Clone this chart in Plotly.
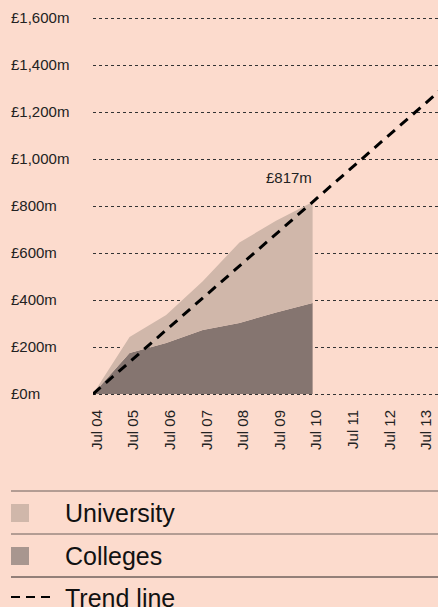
import plotly.graph_objects as go

# ---- data ----
years = ["2004-07-01", "2005-07-01", "2006-07-01", "2007-07-01",
         "2008-07-01", "2009-07-01", "2010-07-01"]
colleges = [0, 174, 217, 272, 302, 347, 387]
total = [0, 243, 336, 480, 645, 737, 817]
university = [t - c for t, c in zip(total, colleges)]

trend_x = ["2004-07-01", "2014-07-01"]
trend_y = [0, 1362]

x_tick_vals = ["2004-07-01", "2005-07-01", "2006-07-01", "2007-07-01", "2008-07-01",
               "2009-07-01", "2010-07-01", "2011-07-01", "2012-07-01", "2013-07-01"]
x_tick_text = ["Jul 04", "Jul 05", "Jul 06", "Jul 07", "Jul 08",
               "Jul 09", "Jul 10", "Jul 11", "Jul 12", "Jul 13"]
y_tick_vals = [0, 200, 400, 600, 800, 1000, 1200, 1400, 1600]
y_tick_text = ["£0m", "£200m", "£400m", "£600m", "£800m",
               "£1,000m", "£1,200m", "£1,400m", "£1,600m"]

legend_labels = ["University", "Colleges", "Trend line"]

# ---- style ----
BG = "#FCDBCD"
UNI = "#D0B7AA"
COL = "#857570"
COL_SWATCH = "#A8968F"
FONT = "Liberation Sans, Arial, sans-serif"
W, H = 438, 607
L, R, T, B = 7, 0, 8, 203
PLOT_LEFT = 93
Y_RANGE = [-42.55, 1642.55]


def px(x):
    return (x - L) / (W - L - R)


def py(y):
    return (H - B - y) / (H - B - T)


fig = go.Figure()
fig.add_trace(go.Scatter(x=years, y=colleges, name="Colleges", stackgroup="s",
                         mode="none", fillcolor=COL, line=dict(width=0),
                         hoverinfo="skip"))
fig.add_trace(go.Scatter(x=years, y=university, name="University", stackgroup="s",
                         mode="none", fillcolor=UNI, line=dict(width=0),
                         hoverinfo="skip"))
fig.add_trace(go.Scatter(x=trend_x, y=trend_y, name="Trend line", mode="lines",
                         line=dict(color="#000000", width=3, dash="10px,7px"),
                         hoverinfo="skip"))

fig.add_annotation(x=years[-1], y=total[-1], text=f"£{total[-1]}m", showarrow=False,
                   xanchor="right", yanchor="bottom", yshift=14, xshift=1,
                   font=dict(family=FONT, size=15, color="#222"))

# legend rules
for yy, c in [(491, "#6a5f5b"), (534, "#6a5f5b"), (577, "#2a2524")]:
    fig.add_shape(type="line", xref="paper", yref="paper",
                  x0=px(11), x1=px(438), y0=py(yy), y1=py(yy),
                  line=dict(color=c, width=1))
# swatches
for (yc, c) in [(513, UNI), (556, COL_SWATCH)]:
    fig.add_shape(type="rect", xref="paper", yref="paper",
                  x0=px(11), x1=px(29), y0=py(yc - 9), y1=py(yc + 9),
                  fillcolor=c, line=dict(width=0))
fig.add_shape(type="line", xref="paper", yref="paper",
              x0=px(11), x1=px(50), y0=py(597), y1=py(597),
              line=dict(color="#000", width=2, dash="9px,6px"))
for lab, yc in zip(legend_labels, [513, 556, 598]):
    fig.add_annotation(xref="paper", yref="paper", x=px(63), y=py(yc), text=lab,
                       showarrow=False, xanchor="left", yanchor="middle",
                       font=dict(family=FONT, size=25, color="#111"))

fig.update_layout(
    width=W, height=H,
    margin=dict(l=L, r=R, t=T, b=B),
    paper_bgcolor=BG, plot_bgcolor=BG,
    showlegend=False,
    font=dict(family=FONT, size=15, color="#222"),
    xaxis=dict(domain=[px(PLOT_LEFT), 1], type="date",
               range=["2004-07-01", "2013-12-03"],
               tickvals=x_tick_vals, ticktext=x_tick_text, tickangle=-90,
               showgrid=False, zeroline=False, showline=False, ticks="",
               ticklabelstandoff=2, ticklabelshift=4,
               tickfont=dict(family=FONT, size=15, color="#222")),
    yaxis=dict(range=Y_RANGE, tickvals=y_tick_vals, showticklabels=False,
               showgrid=True, gridcolor="#333", griddash="dot", gridwidth=1,
               zeroline=False, showline=False, ticks=""),
    yaxis2=dict(overlaying="y", anchor="free", position=0, side="left",
                range=Y_RANGE, tickvals=y_tick_vals, ticktext=y_tick_text,
                ticklabelposition="inside", showgrid=False, zeroline=False,
                showline=False, ticks="",
                tickfont=dict(family=FONT, size=15, color="#222")),
)
fig.add_trace(go.Scatter(x=[years[0]], y=[0], yaxis="y2", mode="markers",
                         marker=dict(opacity=0), hoverinfo="skip", showlegend=False))

fig.write_html("out.html", config={"displayModeBar": False},
               post_script="document.body.style.margin='0px';document.body.style.overflow='hidden';")
